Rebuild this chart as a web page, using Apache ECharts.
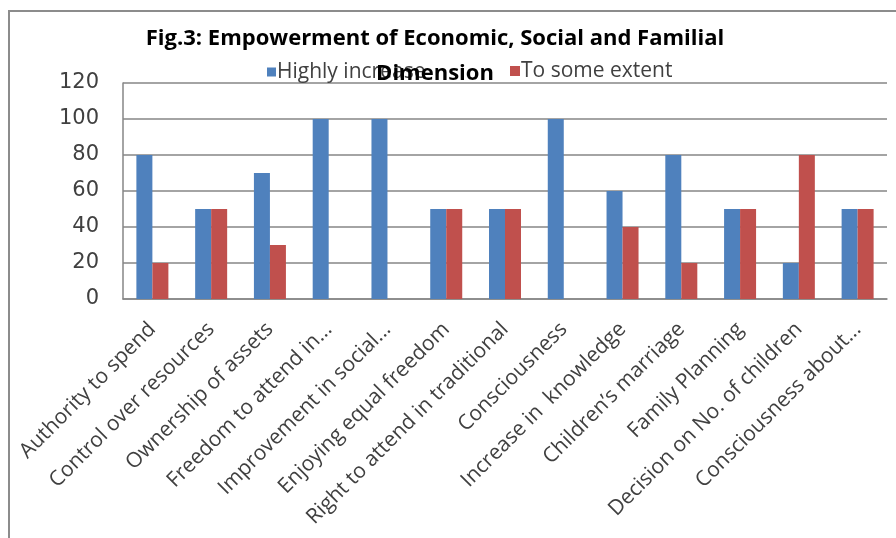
<!DOCTYPE html>
<html>
<head>
<meta charset="utf-8">
<script src="https://cdn.jsdelivr.net/npm/echarts@6/dist/echarts.min.js"></script>
<style>
  html, body { margin: 0; padding: 0; background: #fff; }
  #main { width: 896px; height: 538px; }
</style>
</head>
<body>
<div id="main"></div>
<script>
// chart data
var categories = [
  'Authority to spend',
  'Control over resources',
  'Ownership of assets',
  'Freedom to attend in...',
  'Improvement in social...',
  'Enjoying equal freedom',
  'Right to attend in traditional',
  'Consciousness',
  'Increase in  knowledge',
  'Children\u2019s marriage',
  'Family Planning',
  'Decision on No. of children',
  'Consciousness about...'
];
var highlyIncrease = [80, 50, 70, 100, 100, 50, 50, 100, 60, 80, 50, 20, 50];
var toSomeExtent = [20, 50, 30, 0, 0, 50, 50, 0, 40, 20, 50, 80, 50];
var yTicks = [0, 20, 40, 60, 80, 100, 120];

var chart = echarts.init(document.getElementById('main'));

var legendText = { fontFamily: 'Open Sans', fontSize: 21, lineHeight: 22, color: '#404040', padding: [0, 0, 0, -4] };

var option = {
  animation: false,
  title: {
    text: 'Fig.3: Empowerment of Economic, Social and Familial\nDimension',
    left: 435,
    top: 21,
    padding: 0,
    textAlign: 'center',
    textStyle: {
      fontFamily: 'Open Sans',
      fontWeight: 'bold',
      fontSize: 22,
      lineHeight: 35,
      color: '#000'
    }
  },
  legend: [
    {
      data: ['Highly increase'],
      left: 267,
      top: 61,
      padding: 0,
      icon: 'rect',
      itemWidth: 9,
      itemHeight: 9,
      textStyle: legendText
    },
    {
      data: ['To some extent'],
      left: 510,
      top: 60,
      padding: 0,
      icon: 'rect',
      itemWidth: 10,
      itemHeight: 10,
      textStyle: legendText
    }
  ],
  grid: {
    left: 123,
    right: 9,
    top: 83,
    bottom: 239,
    containLabel: false
  },
  xAxis: {
    type: 'category',
    data: categories,
    axisLine: { lineStyle: { color: '#868686', width: 1.5 } },
    axisTick: { show: false },
    axisLabel: {
      rotate: 45,
      interval: 0,
      margin: 27,
      fontFamily: 'Open Sans',
      fontSize: 21,
      color: '#404040'
    }
  },
  yAxis: {
    type: 'value',
    min: yTicks[0],
    max: yTicks[yTicks.length - 1],
    interval: 20,
    axisLine: { show: true, lineStyle: { color: '#868686', width: 1.5 } },
    axisTick: { show: false },
    splitLine: { lineStyle: { color: '#868686', width: 1.5 } },
    axisLabel: {
      margin: 24,
      padding: [4, 0, 0, 0],
      fontFamily: 'DejaVu Sans',
      fontSize: 21,
      color: '#404040'
    }
  },
  graphic: [
    {
      type: 'rect',
      silent: true,
      shape: { x: 9, y: 11, width: 1000, height: 1000 },
      style: { fill: 'none', stroke: '#8c8c8c', lineWidth: 2 }
    }
  ],
  series: [
    {
      name: 'Highly increase',
      type: 'bar',
      data: highlyIncrease,
      barWidth: 16,
      barGap: '0%',
      itemStyle: { color: '#4F81BD' }
    },
    {
      name: 'To some extent',
      type: 'bar',
      data: toSomeExtent,
      barWidth: 16,
      barGap: '0%',
      itemStyle: { color: '#C0504D' }
    }
  ]
};

chart.setOption(option);
</script>
</body>
</html>
